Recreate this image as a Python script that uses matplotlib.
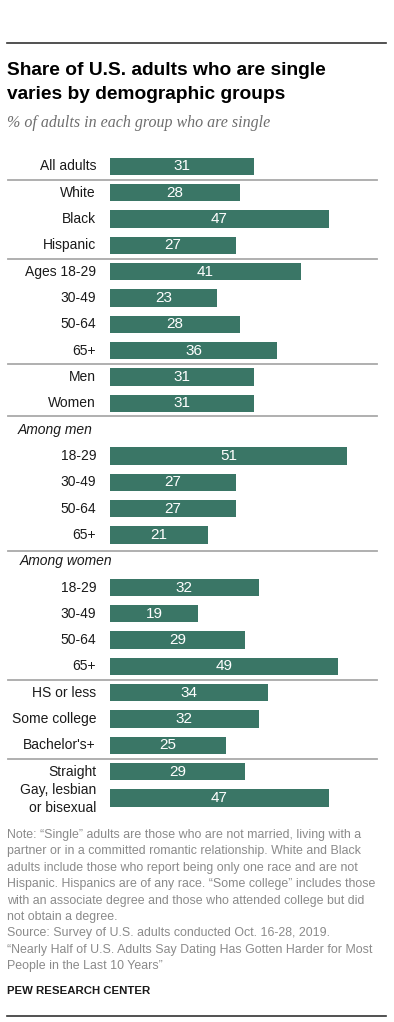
"""Pew-style horizontal bar chart: share of U.S. adults who are single."""

import matplotlib
matplotlib.use('Agg')
import matplotlib.pyplot as plt
from matplotlib.lines import Line2D


# ================================== data ====================================

labels = ['All adults', 'White', 'Black', 'Hispanic',
          'Ages 18-29', '30-49', '50-64', '65+',
          'Men', 'Women',
          '18-29', '30-49', '50-64', '65+',
          '18-29', '30-49', '50-64', '65+',
          'HS or less', 'Some college', "Bachelor's+",
          'Straight', 'Gay, lesbian\nor bisexual']
values = [31, 28, 47, 27,
          41, 23, 28, 36,
          31, 31,
          51, 27, 27, 21,
          32, 19, 29, 49,
          34, 32, 25,
          29, 47]

# row slots: bars skip the two sub-header rows
slots = [0, 1, 2, 3, 4, 5, 6, 7, 8, 9,
         11, 12, 13, 14,
         16, 17, 18, 19,
         20, 21, 22,
         23, 24]
headers = {10: 'Among men', 15: 'Among women'}
separators = [0.5, 3.5, 7.5, 9.5, 14.6, 19.5, 22.5]

title = 'Share of U.S. adults who are single\nvaries by demographic groups'
subtitle = '% of adults in each group who are single'
notes = [
    'Note: \u201cSingle\u201d adults are those who are not married, living with a',
    'partner or in a committed romantic relationship. White and Black',
    'adults include those who report being only one race and are not',
    'Hispanic. Hispanics are of any race. \u201cSome college\u201d includes those',
    'with an associate degree and those who attended college but did',
    'not obtain a degree.',
    'Source: Survey of U.S. adults conducted Oct. 16-28, 2019.',
    '\u201cNearly Half of U.S. Adults Say Dating Has Gotten Harder for Most',
    'People in the Last 10 Years\u201d',
]

# ================================= styles ===================================

W, H = 394, 1022
BAR = '#3a7666'
SEP = '#a9a9a9'
FONT = 'Liberation Sans'


def fy(px):
    """pixel row (from top) -> figure fraction"""
    return 1 - px / H


def fx(px):
    return px / W


# ================================= figure ===================================

fig = plt.figure(figsize=(W / 100, H / 100), dpi=100)
plt.rcParams['font.family'] = FONT

# bar axes: slot 0 centred at 166.5px, slot 24 at 798px
top_px, bot_px = 140, 830
pitch = (798 - 166.5) / 24
ax_left, ax_w = 110, 279
ax = fig.add_axes([fx(ax_left), fy(bot_px), fx(ax_w), (bot_px - top_px) / H])
ax.set_xlim(0, 60)
ax.set_ylim((bot_px - 166.5) / pitch, (top_px - 166.5) / pitch)
ax.axis('off')

ax.barh(slots, values, height=0.66, color=BAR, edgecolor='none')

for s, v, lab in zip(slots, values, labels):
    ax.text(v / 2, s, str(v), ha='center', va='center',
            color='white', fontsize=11, fontfamily=FONT)
    ax.text(-14 / ax_w * 60, s + (0.05 if '\n' in lab else 0), lab,
            ha='right', va='center', color='#1a1a1a', fontsize=10,
            fontfamily=FONT, linespacing=1.35)

header_x = {10: 18, 15: 20}
for s, txt in headers.items():
    ax.text((header_x[s] - ax_left) / ax_w * 60, s, txt, ha='left', va='center',
            color='#1a1a1a', fontsize=10, fontstyle='italic', fontfamily=FONT)

for y in separators:
    ax.axhline(y, xmin=(8 - ax_left) / ax_w, xmax=(377 - ax_left) / ax_w,
               color=SEP, lw=1.3, clip_on=False)

# ================================ texts =====================================

fig.add_artist(Line2D([fx(7), fx(386)], [fy(43), fy(43)], color='#333333', lw=1.2))
fig.add_artist(Line2D([fx(7), fx(386)], [fy(1016), fy(1016)], color='#333333', lw=1.2))

fig.text(fx(7), fy(75), title.split('\n')[0], ha='left', va='baseline',
         fontsize=13.8, fontweight='bold', fontfamily=FONT, color='black')
fig.text(fx(7), fy(99), title.split('\n')[1], ha='left', va='baseline',
         fontsize=13.8, fontweight='bold', fontfamily=FONT, color='black')
fig.text(fx(7), fy(127), subtitle, ha='left', va='baseline',
         fontsize=11.5, fontstyle='italic', fontfamily='Liberation Serif',
         color='#6e6e6e')

for i, line in enumerate(notes):
    fig.text(fx(7), fy(838 + i * 16.4), line, ha='left', va='baseline',
             fontsize=8.9, fontfamily=FONT, color='#8a8a8a')

fig.text(fx(7), fy(994), 'PEW RESEARCH CENTER', ha='left', va='baseline',
         fontsize=8.2, fontweight='bold', fontfamily=FONT, color='#1a1a1a')

fig.savefig('out.png', dpi=100)
